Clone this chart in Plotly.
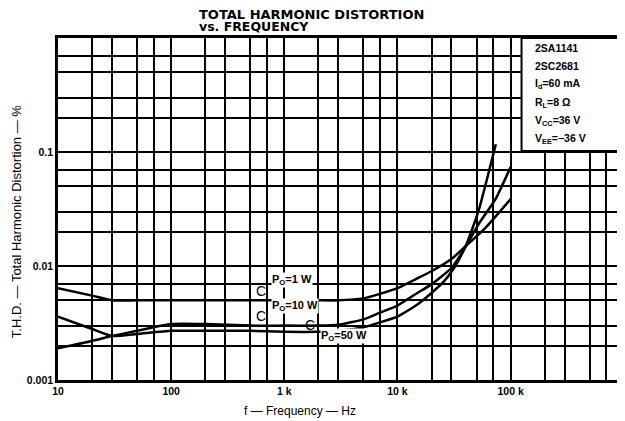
import plotly.graph_objects as go

# ---- data ----
f_1w = [10, 20, 30, 50, 100, 300, 1000, 2000, 3000, 5000, 7000, 10000, 15000, 20000, 30000, 40000, 60000, 100000]
thd_1w = [0.0064, 0.0055, 0.0050, 0.0050, 0.0050, 0.0050, 0.0050, 0.0050, 0.0050, 0.0052, 0.0057, 0.0064, 0.0078, 0.0090, 0.0115, 0.0149, 0.0216, 0.0386]

f_10w = [10, 20, 30, 50, 100, 200, 500, 1000, 2000, 3000, 5000, 7000, 10000, 15000, 20000, 30000, 40000, 52000, 74000, 100000]
thd_10w = [0.0019, 0.0022, 0.00243, 0.0027, 0.0031, 0.0031, 0.0030, 0.0030, 0.0030, 0.00305, 0.0034, 0.0039, 0.0045, 0.0058, 0.0069, 0.0096, 0.0147, 0.0232, 0.039, 0.0737]

f_50w = [10, 20, 30, 50, 100, 200, 500, 1000, 2000, 3000, 5000, 7000, 10000, 15000, 20000, 26000, 31600, 40000, 52000, 74000]
thd_50w = [0.0036, 0.0028, 0.00243, 0.00253, 0.0027, 0.0027, 0.0027, 0.00265, 0.00265, 0.0027, 0.0029, 0.0032, 0.0036, 0.0046, 0.0058, 0.0074, 0.0096, 0.0149, 0.0303, 0.117]

x_grid = [10, 20, 30, 50, 70, 100, 200, 300, 500, 700, 1000, 2000, 3000, 5000, 7000,
          10000, 20000, 30000, 50000, 70000, 100000, 200000, 300000, 500000, 700000, 1000000]
x_labels = {10: "10", 100: "100", 1000: "1 k", 10000: "10 k", 100000: "100 k"}
y_grid = [0.001, 0.002, 0.003, 0.005, 0.007, 0.01, 0.02, 0.03, 0.05, 0.07,
          0.1, 0.2, 0.3, 0.5, 0.7, 1.0]
y_labels = {0.001: "0.001", 0.01: "0.01", 0.1: "0.1"}

cond_lines = ["2SA1141", "2SC2681", "I<sub>d</sub>=60 mA", "R<sub>L</sub>=8 Ω",
              "V<sub>CC</sub>=36 V", "V<sub>EE</sub>=−36 V"]

FONT = "Liberation Sans, Arial, sans-serif"
TFONT = "DejaVu Sans, sans-serif"

# plot area in screen pixels (page has a small body margin)
OFF = 7
SL, SR, ST, SB = 57, 625, 37, 379
W, H = 625, 421
def px(x):
    return (x - SL) / (SR - SL)
def py(y):
    return (SB - y) / (SB - ST)

fig = go.Figure()
for fx, fy in [(f_1w, thd_1w), (f_10w, thd_10w), (f_50w, thd_50w)]:
    fig.add_trace(go.Scatter(x=fx, y=fy, mode="lines",
                             line=dict(color="black", width=2.5, shape="spline", smoothing=0.5),
                             showlegend=False, hoverinfo="skip"))

ml, mt = SL - OFF, ST - OFF
fig.update_layout(
    width=W, height=H,
    margin=dict(l=ml, r=W - (ml + SR - SL), t=mt, b=H - (mt + SB - ST), pad=0),
    paper_bgcolor="white", plot_bgcolor="white",
    font=dict(family=FONT, color="black", size=11),
)
fig.update_xaxes(type="log", range=[1, 1 + (SR - SL) / 113.75],
                 tickvals=x_grid, ticktext=[x_labels.get(v, "") for v in x_grid],
                 showgrid=True, gridcolor="black", gridwidth=1.6,
                 showline=True, linecolor="black", linewidth=2.5, mirror=True,
                 ticks="", zeroline=False,
                 tickfont=dict(family=FONT, size=10.5, weight="bold"))
fig.update_yaxes(type="log", range=[-3, 0],
                 tickvals=y_grid, ticktext=[y_labels.get(v, "") for v in y_grid],
                 showgrid=True, gridcolor="black", gridwidth=1.6,
                 showline=True, linecolor="black", linewidth=2.5, mirror=True,
                 ticks="", zeroline=False,
                 tickfont=dict(family=FONT, size=10.5, weight="bold"))

# condition box
fig.add_shape(type="rect", xref="paper", yref="paper",
              x0=px(523), x1=1.05, y0=py(150), y1=1.0,
              fillcolor="white", line=dict(color="black", width=2), layer="above")
for txt, yy in zip(cond_lines, [47, 65, 83, 102, 120, 138]):
    fig.add_annotation(xref="paper", yref="paper", x=px(535), y=py(yy),
                       text=txt, showarrow=False, xanchor="left", yanchor="middle",
                       font=dict(family=FONT, size=10.5, weight="bold"))

# curve labels
labels = [("P<sub>O</sub>=1 W", 292, 287, 261, 300),
          ("P<sub>O</sub>=10 W", 295, 313, 261, 325),
          ("P<sub>O</sub>=50 W", 345, 343, 310, 334)]
for txt, lx, ly, cx, cy in labels:
    fig.add_annotation(xref="paper", yref="paper", x=px(lx), y=py(ly), text=txt,
                       showarrow=False, bgcolor="white", borderpad=0,
                       font=dict(family=FONT, size=11, weight="bold"))
    fig.add_annotation(xref="paper", yref="paper", x=px(cx), y=py(cy), text="C",
                       showarrow=False, bgcolor="rgba(0,0,0,0)",
                       font=dict(family=FONT, size=14))

# titles
fig.add_annotation(xref="paper", yref="paper", x=px(197), y=py(13.5), text="TOTAL HARMONIC DISTORTION",
                   showarrow=False, xanchor="left", yanchor="middle",
                   font=dict(family=TFONT, size=13, weight="bold"))
fig.add_annotation(xref="paper", yref="paper", x=px(197), y=py(26), text="vs. FREQUENCY",
                   showarrow=False, xanchor="left", yanchor="middle",
                   font=dict(family=TFONT, size=12.5, weight="bold"))
fig.add_annotation(xref="paper", yref="paper", x=px(300), y=py(410), text="f — Frequency — Hz",
                   showarrow=False, xanchor="center", yanchor="middle",
                   font=dict(family=FONT, size=12))
fig.add_annotation(xref="paper", yref="paper", x=px(15), y=py(220),
                   text="T.H.D. — Total Harmonic Distortion — %", textangle=-90,
                   showarrow=False, xanchor="center", yanchor="middle",
                   font=dict(family=FONT, size=13))

fig.write_html("out.html")
